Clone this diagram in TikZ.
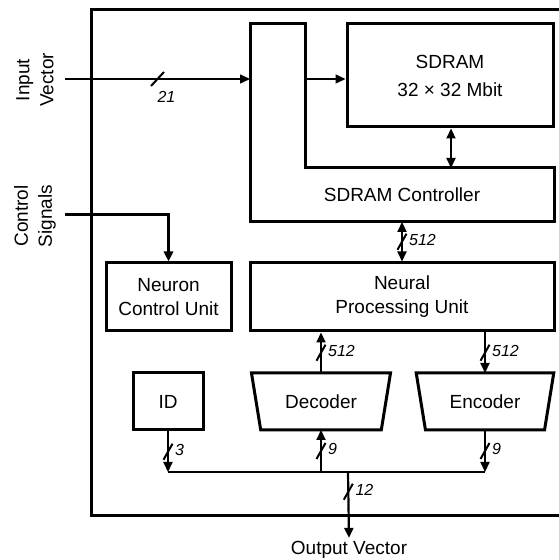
\documentclass[tikz,border=0pt]{standalone}
\usepackage{fontspec}
\setmainfont{Liberation Sans}
\usetikzlibrary{arrows.meta,shapes.geometric,calc}

\tikzset{
  blk/.style={draw, line width=3pt, align=center, inner sep=0pt},
  trap/.style={blk, trapezium, shape border rotate=180, trapezium stretches=true,
    trapezium angle=68.5, minimum height=57pt},
  wire/.style={line width=2.2pt},
  tip/.style={-{Triangle[length=10pt,width=9pt]}},
  tips/.style={{Triangle[length=10pt,width=9pt]}-{Triangle[length=10pt,width=9pt]}},
  slash/.style={line width=2pt},
  wlbl/.style={font=\fontsize{16}{16}\selectfont\itshape, inner sep=0pt},
}
% bus width mark: position, label name, label text
\newcommand{\wmark}[3]{%
  \draw[slash] ($(#1)+(-4.5,-8)$) -- ($(#1)+(4.5,8)$);
  \node[wlbl, anchor=west] (#2) at ($(#1)+(7,2)$) {#3};}

\begin{document}
\begin{tikzpicture}[x=1pt,y=1pt,font=\fontsize{19}{24}\selectfont]
\useasboundingbox (0,0) rectangle (559,560);
% chip outline
\draw[line width=3pt] (559,550) -- (91,550) -- (91,44) -- (559,44);

% sdram and its controller
\node[blk, minimum width=206pt, minimum height=103pt] (sdram) at (450,484.5) {SDRAM\\[4pt]32 × 32 Mbit};
\coordinate (cA) at (250,536);
\coordinate (cB) at (305,536);
\coordinate (cC) at (305,392);
\coordinate (cD) at (554,392);
\coordinate (cE) at (554,338);
\coordinate (cF) at (250,338);
\draw[line width=3pt] (cA) -- (cB) -- (cC) -- (cD) -- (cE) -- (cF) -- cycle;
\node (ctrl) at (402,365) {SDRAM Controller};

\node[blk, minimum width=125pt, minimum height=68pt] (ncu) at (168.5,263) {Neuron\\Control Unit};
\node[blk, minimum width=304pt, minimum height=68pt] (npu) at (402,263) {Neural\\Processing Unit};
\node[blk, minimum width=70pt, minimum height=57pt] (id) at (168,158.5) {ID};
\node[trap, minimum width=140pt] (dec) at (321,158.5) {Decoder};
\node[trap, minimum width=138pt] (enc) at (485,158.5) {Encoder};

% outside labels
\node[rotate=90, align=center] (inlbl) at (35,480) {Input\\Vector};
\node[rotate=90, align=center] (ctllbl) at (35,344) {Control\\Signals};
\node (outv) at (349,10) {Output Vector};
\coordinate (inV) at (65,481);
\coordinate (ctlS) at (65,345);

% input side
\draw[line width=1.5pt, tip] (inV) -- (cA |- inV) coordinate[midway] (wIn);
\draw[slash] ($(wIn)+(-6.5,-7)$) -- ($(wIn)+(6.5,7)$);
\node[wlbl] (lIn) at ($(wIn)+(9,-18)$) {21};
\draw[line width=1.5pt, tip] (cB |- inV) -- (sdram.west |- inV);
\draw[line width=3pt, tip] (ctlS) -- (ctlS -| ncu.north) -- (ncu.north);

% memory path
\draw[wire, tips] (sdram.south -| 451,0) -- (cC -| 451,0);
\draw[wire, tips] (npu.north |- cE) -- (npu.north) coordinate[midway] (wCtl);
\wmark{wCtl}{lCtl}{512}

% coder paths
\coordinate (busL) at (168,88);
\coordinate (busO) at (348,88);
\coordinate (busR) at (485,88);
\draw[wire] (busL) -- (busR);
\draw[wire, tip] ([yshift=28.5pt]dec.center) -- (dec.center |- npu.south) coordinate[midway] (wDec);
\wmark{wDec}{lDec}{512}
\draw[wire, tip] (enc.center |- npu.south) -- ([yshift=28.5pt]enc.center) coordinate[midway] (wEnc);
\wmark{wEnc}{lEnc}{512}
\draw[wire, tip] (dec.center |- busL) -- ([yshift=-28.5pt]dec.center) coordinate[midway] (wDecB);
\wmark{wDecB}{lDecB}{9}
\draw[wire, tip] ([yshift=-28.5pt]enc.center) -- (busR) coordinate[midway] (wEncB);
\wmark{wEncB}{lEncB}{9}
\draw[wire, tip] (id.south) -- (busL) coordinate[midway] (wId);
\wmark{wId}{lId}{3}
\draw[wire, tip] (busO) -- (outv.north) coordinate[pos=.3] (wOut);
\wmark{wOut}{lOut}{12}
\end{tikzpicture}
\end{document}
